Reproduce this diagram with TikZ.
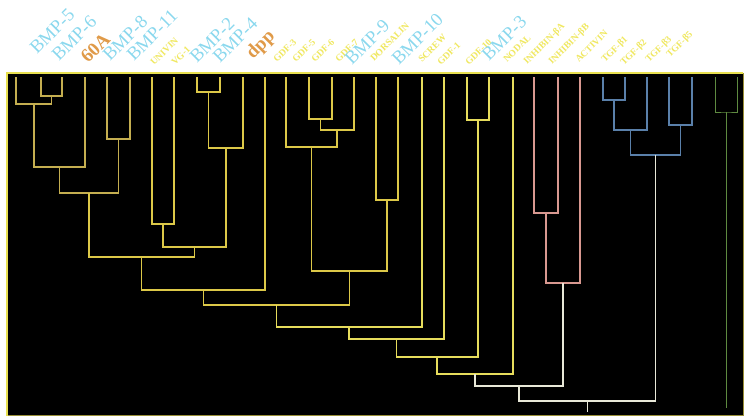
\documentclass[tikz,border=0pt]{standalone}
\usepackage{fontspec}
\setmainfont{Liberation Serif}
\usetikzlibrary{calc}
\definecolor{yelA}{HTML}{C4AE50}
\definecolor{yelB}{HTML}{DCC848}
\definecolor{yelC}{HTML}{E6DC5C}
\definecolor{pinkc}{HTML}{D89890}
\definecolor{bluec}{HTML}{5A80AA}
\definecolor{greenc}{HTML}{5E8A40}
\definecolor{whitec}{HTML}{E8E8D8}
\definecolor{cyanl}{HTML}{8AD8EE}
\definecolor{orangel}{HTML}{E09A48}
\definecolor{yell}{HTML}{F0E860}
\definecolor{framec}{HTML}{E8E050}
\definecolor{framed}{HTML}{9A9038}
\tikzset{
  branch/.style={line width=1.6pt},
  bigl/.style={anchor=base west, rotate=45, inner sep=0pt, text=cyanl, font=\fontsize{18.5}{18.5}\selectfont},
  orl/.style={anchor=base west, rotate=45, inner sep=0pt, text=orangel, font=\bfseries\fontsize{19}{19}\selectfont},
  smalll/.style={anchor=base west, rotate=45, inner sep=0pt, text=yell, font=\bfseries\fontsize{9.5}{9.5}\selectfont},
}
\newcommand{\tjoin}[5]{%
  \coordinate (#1-m) at ($(#2)!0.5!(#3)$);
  \coordinate (#1) at (#1-m |- 0,#4);
  \draw[branch,#5] (#2) |- (#1) -| (#3);}
\begin{document}
\begin{tikzpicture}[x=1pt,y=-1pt]
\useasboundingbox (0,0) rectangle (744,416);
\fill[white] (0,0) rectangle (744,416);
\fill[black] (7,73) rectangle (743,416);
\draw[framed, line width=1pt] (743,73) -- (743,415.5) -- (7,415.5);
\draw[framec, line width=2.2pt] (7,416) -- (7,73) -- (743,73);
% leaves
\coordinate (L1) at (16,77);
\coordinate (L2) at (41,77);
\coordinate (L3) at (62,77);
\coordinate (L4) at (85,77);
\coordinate (L5) at (107,77);
\coordinate (L6) at (130,77);
\coordinate (L7) at (152,77);
\coordinate (L8) at (174,77);
\coordinate (L9) at (197,77);
\coordinate (L10) at (220,77);
\coordinate (L11) at (243,77);
\coordinate (L12) at (265,77);
\coordinate (L13) at (286,77);
\coordinate (L14) at (309,77);
\coordinate (L15) at (332,77);
\coordinate (L16) at (354,77);
\coordinate (L17) at (376,77);
\coordinate (L18) at (398,77);
\coordinate (L19) at (422,77);
\coordinate (L20) at (444,77);
\coordinate (L21) at (467,77);
\coordinate (L22) at (489,77);
\coordinate (L23) at (513,77);
\coordinate (L24) at (534,77);
\coordinate (L25) at (558,77);
\coordinate (L26) at (580,77);
\coordinate (L27) at (603,77);
\coordinate (L28) at (625,77);
\coordinate (L29) at (647,77);
\coordinate (L30) at (669,77);
\coordinate (L31) at (692,77);
\coordinate (L32) at (715,77);
\coordinate (L33) at (737,77);
% yellow tree
\tjoin{a1}{L2}{L3}{96}{yelA}
\tjoin{a2}{L1}{a1}{104}{yelA}
\tjoin{a3}{a2}{L4}{167}{yelA}
\tjoin{a4}{L5}{L6}{139}{yelA}
\tjoin{a5}{a3}{a4}{193}{yelA}
\tjoin{b1}{L7}{L8}{224}{yelB}
\tjoin{b2}{L9}{L10}{92}{yelB}
\tjoin{b3}{b2}{L11}{148}{yelB}
\tjoin{b4}{b1}{b3}{247}{yelB}
\tjoin{c1}{a5}{b4}{257}{yelB}
\tjoin{c2}{c1}{L12}{290}{yelB}
\tjoin{d1}{L14}{L15}{119}{yelB}
\tjoin{d2}{d1}{L16}{130}{yelB}
\tjoin{d3}{L13}{d2}{147}{yelB}
\tjoin{d4}{L17}{L18}{200}{yelB}
\tjoin{d5}{d3}{d4}{271}{yelB}
\tjoin{e1}{c2}{d5}{305}{yelB}
\tjoin{e2}{e1}{L19}{327}{yelC}
\tjoin{e3}{e2}{L20}{339}{yelC}
\tjoin{f1}{L21}{L22}{120}{yelC}
\tjoin{e4}{e3}{f1}{357}{yelC}
\tjoin{e5}{e4}{L23}{374}{yelC}
% pink
\tjoin{p1}{L24}{L25}{213}{pinkc,line width=1.3pt}
\tjoin{p2}{p1}{L26}{283}{pinkc,line width=1.3pt}
\tjoin{w1}{e5}{p2}{386}{whitec,line width=1.4pt}
% blue
\tjoin{q1}{L27}{L28}{100}{bluec,line width=1.2pt}
\tjoin{q2}{q1}{L29}{130}{bluec,line width=1.2pt}
\tjoin{q3}{L30}{L31}{125}{bluec,line width=1.2pt}
\tjoin{q4}{q2}{q3}{155}{bluec,line width=1.2pt}
\tjoin{w2}{w1}{q4}{401}{whitec,line width=1.4pt}
\coordinate (rootend) at (w2 |- 0,412);
\draw[branch,whitec,line width=1.4pt] (w2) -- (rootend);
% green
\tjoin{g1}{L32}{L33}{112}{greenc,line width=1pt}
\coordinate (gend) at (g1 |- 0,408);
\draw[branch,greenc,line width=1pt] (g1) -- (gend);
% labels
\node[bigl] (t1) at (37,55) {BMP-5};
\node[bigl] (t2) at (59,62) {BMP-6};
\node[orl] (t3) at (88,64) {60A};
\node[bigl] (t4) at (110,62) {BMP-8};
\node[bigl] (t5) at (134,62) {BMP-11};
\node[smalll] (t6) at (154,66) {UNIVIN};
\node[smalll] (t7) at (175,66) {VG-1};
\node[bigl] (t8) at (197,64) {BMP-2};
\node[bigl] (t9) at (220,64) {BMP-4};
\node[orl] (t10) at (253,60) {dpp};
\node[smalll] (t11) at (277,63) {GDF-3};
\node[smalll] (t12) at (296,63) {GDF-5};
\node[smalll] (t13) at (315,63) {GDF-6};
\node[smalll] (t14) at (339,63) {GDF-7};
\node[bigl] (t15) at (352,66) {BMP-9};
\node[smalll] (t16) at (374,62) {DORSALIN};
\node[bigl] (t17) at (399,66) {BMP-10};
\node[smalll] (t18) at (422,63) {SCREW};
\node[smalll] (t19) at (441,66) {GDF-1};
\node[smalll] (t20) at (469,66) {GDF-10};
\node[bigl] (t21) at (489,62) {BMP-3};
\node[smalll] (t22) at (507,63) {NODAL};
\node[smalll] (t23) at (527,65) {INHIBIN-βA};
\node[smalll] (t24) at (552,65) {INHIBIN-βB};
\node[smalll] (t25) at (579,63) {ACTIVIN};
\node[smalll] (t26) at (605,63) {TGF-β1};
\node[smalll] (t27) at (624,66) {TGF-β2};
\node[smalll] (t28) at (649,63) {TGF-β3};
\node[smalll] (t29) at (670,58) {TGF-β5};
\end{tikzpicture}
\end{document}
